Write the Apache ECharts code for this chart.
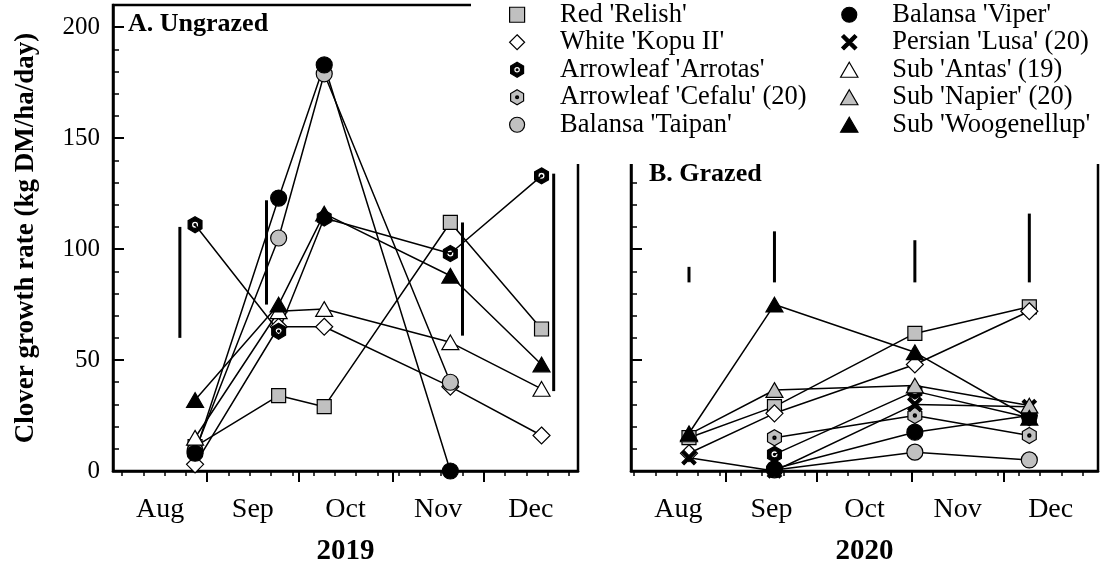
<!DOCTYPE html>
<html>
<head>
<meta charset="utf-8">
<script src="https://cdn.jsdelivr.net/npm/echarts@6/dist/echarts.min.js"></script>
<style>
  html, body { margin: 0; padding: 0; background: #fff; }
  #chart { width: 1101px; height: 571px; }
</style>
</head>
<body>
<div id="chart"></div>
<script>
// x is "days since 1 Aug"
var months = ['Aug', 'Sep', 'Oct', 'Nov', 'Dec'];
var monthStarts = [31, 61, 92, 122];
var monthMids = [15.5, 46, 76.5, 107, 137.5];
var weeks2019 = [3, 10, 17, 24, 38, 45, 52, 59, 66, 73, 80, 87, 94, 101, 108, 115, 129, 136, 143, 150];
var weeks2020 = [1, 8, 15, 22, 29, 36, 43, 50, 57, 64, 71, 78, 85, 92, 99, 106, 113, 120, 127, 134, 141, 148];
var yLabels = [0, 50, 100, 150, 200];
var yMinor = [10, 20, 30, 40, 60, 70, 80, 90, 110, 120, 130, 140, 160, 170, 180, 190];

// sampling dates
var days2019 = [27, 54.5, 69.5, 111, 141];
var days2020 = [19, 47, 93, 130.5];

// A. Ungrazed 2019
var relish19  = [11, 34, 29, 112, 64];
var kopu19    = [3, 65, 65, 38, 16];
var arrotas19 = [111, 63, 114, 98, 133];
var taipan19  = [9, 105, 179, 40, null];
var viper19   = [8, 123, 183, 0, null];
var antas19   = [15, 72, 73, 58, 37];
var woog19    = [32, 75, 116, 88, 48];

// B. Grazed 2020
var relish20  = [15, 29, 62, 74];
var kopu20    = [8, 26, 48, 72];
var arrotas20 = [null, 7.5, 36, 24];
var cefalu20  = [null, 15, 25, 16];
var taipan20  = [null, 0.5, 8.5, 5];
var viper20   = [null, 1, 17.5, 25];
var lusa20    = [6, 0, 30, 29];
var napier20  = [16.5, 36.5, 38.5, 29.5];
var woog20    = [17, 75, 53.5, 24];

// LSD bars
var lsdDays19 = [22, 50.5, 115, 145];
var lsdLow19  = [60, 75, 61, 36];
var lsdHigh19 = [110, 122, 112, 134];
var lsdDays20 = [19, 47, 93, 130.5];
var lsdLow20  = [85, 85, 85, 85];
var lsdHigh20 = [92, 108, 104, 116];

var FONT = 'Liberation Serif';
var GREY = '#c0c0c0';

var SQ = 'path://M0,0L10,0L10,10L0,10Z';
var DIA = 'path://M6,0L12,6L6,12L0,6Z';
var HEX_HOLE = 'path://M10,0L18.66,5L18.66,15L10,20L1.34,15L1.34,5Z' +
  'M14.5,10A4.5,4.5 0 1,0 5.5,10A4.5,4.5 0 1,0 14.5,10Z' +
  'M11.3,10A1.3,1.3 0 1,1 8.7,10A1.3,1.3 0 1,1 11.3,10Z';
var HEX_DOT = 'path://M10,0L18.66,5L18.66,15L10,20L1.34,15L1.34,5Z' +
  'M12,10A2,2 0 1,0 8,10A2,2 0 1,0 12,10Z' +
  'M11.1,10A1.1,1.1 0 1,1 8.9,10A1.1,1.1 0 1,1 11.1,10Z';
var CIR = 'path://M20,10A10,10 0 1,1 0,10A10,10 0 1,1 20,10Z';
var TRI = 'path://M10,0L20,17.32L0,17.32Z';
var CROSS = 'path://M0,3L3,0L10,7L17,0L20,3L13,10L20,17L17,20L10,13L3,20L0,17L7,10Z';

var varieties = [
  {name: "Red 'Relish'",            sym: SQ,       size: 14, fill: GREY,   y19: relish19,  y20: relish20},
  {name: "White 'Kopu II'",         sym: DIA,      size: 17, fill: '#fff', y19: kopu19,    y20: kopu20},
  {name: "Arrowleaf 'Arrotas'",     sym: HEX_HOLE, size: 16, fill: '#000', y19: arrotas19, y20: arrotas20},
  {name: "Arrowleaf 'Cefalu' (20)", sym: HEX_DOT,  size: 16, fill: GREY,   y19: null,      y20: cefalu20},
  {name: "Balansa 'Taipan'",        sym: CIR,      size: 16, fill: GREY,   y19: taipan19,  y20: taipan20},
  {name: "Balansa 'Viper'",         sym: CIR,      size: 16, fill: '#000', y19: viper19,   y20: viper20},
  {name: "Persian 'Lusa' (20)",     sym: CROSS,    size: 14, fill: '#000', y19: null,      y20: lusa20},
  {name: "Sub 'Antas' (19)",        sym: TRI,      size: 17, fill: '#fff', y19: antas19,   y20: null},
  {name: "Sub 'Napier' (20)",       sym: TRI,      size: 17, fill: GREY,   y19: null,      y20: napier20},
  {name: "Sub 'Woogenellup'",       sym: TRI,      size: 17, fill: '#000', y19: woog19,    y20: woog20}
];

function pairs(days, vals) {
  var out = [];
  for (var i = 0; i < days.length; i++) {
    if (vals[i] !== null) out.push([days[i], vals[i]]);
  }
  return out;
}

var series = [];
varieties.forEach(function (v) {
  [[v.y19, days2019, 0], [v.y20, days2020, 1]].forEach(function (p) {
    if (!p[0]) return;
    series.push({
      name: v.name,
      type: 'line',
      xAxisIndex: p[2] * 2,
      yAxisIndex: p[2] * 2,
      data: pairs(p[1], p[0]),
      symbol: v.sym,
      symbolSize: v.size,
      symbolKeepAspect: true,
      showAllSymbol: true,
      lineStyle: {color: '#000', width: 1.5},
      itemStyle: {color: v.fill, borderColor: '#000', borderWidth: 1.2},
      emphasis: {disabled: true},
      z: 3
    });
  });
});

function lsdSeries(g, days, lo, hi) {
  return {
    type: 'custom',
    xAxisIndex: g * 2,
    yAxisIndex: g * 2,
    silent: true,
    data: days.map(function (d, i) { return [d, lo[i], hi[i]]; }),
    encode: {x: 0, y: [1, 2]},
    renderItem: function (params, api) {
      var a = api.coord([api.value(0), api.value(1)]);
      var b = api.coord([api.value(0), api.value(2)]);
      return {
        type: 'line',
        shape: {x1: a[0], y1: a[1], x2: b[0], y2: b[1]},
        style: {stroke: '#000', lineWidth: 3}
      };
    },
    z: 2
  };
}
series.push(lsdSeries(0, lsdDays19, lsdLow19, lsdHigh19));
series.push(lsdSeries(1, lsdDays20, lsdLow20, lsdHigh20));

var xAxes = [], yAxes = [];
['2019', '2020'].forEach(function (yr, g) {
  xAxes.push({
    type: 'value', gridIndex: g, min: 0, max: 153, position: 'bottom',
    axisLine: {show: true, onZero: false, lineStyle: {color: '#000', width: 2.5}},
    axisTick: {show: true, inside: false, length: 11, customValues: monthStarts,
               lineStyle: {color: '#000', width: 2}},
    axisLabel: {customValues: monthMids, margin: 25, fontSize: 28, fontFamily: FONT, color: '#000',
                formatter: function (val) { return months[monthMids.indexOf(val)]; }},
    splitLine: {show: false},
    name: yr, nameLocation: 'middle', nameGap: 66,
    nameTextStyle: {fontSize: 29, fontWeight: 'bold', fontFamily: FONT, color: '#000'}
  });
  xAxes.push({
    type: 'value', gridIndex: g, min: 0, max: 153, position: 'bottom',
    axisLine: {show: false, onZero: false},
    axisTick: {show: true, inside: false, length: 5, customValues: g === 0 ? weeks2019 : weeks2020,
               lineStyle: {color: '#000', width: 1.5}},
    axisLabel: {show: false},
    splitLine: {show: false}
  });
  yAxes.push({
    type: 'value', gridIndex: g, min: 0, max: 210, position: 'left',
    axisLine: {show: true, onZero: false, lineStyle: {color: '#000', width: 2.5}},
    axisTick: {show: true, inside: true, length: 11, customValues: yLabels,
               lineStyle: {color: '#000', width: 2}},
    axisLabel: {show: g === 0, customValues: yLabels, margin: 13, fontSize: 25, fontFamily: FONT, color: '#000'},
    splitLine: {show: false},
    name: g === 0 ? 'Clover growth rate (kg DM/ha/day)' : '',
    nameLocation: 'middle', nameRotate: 90, nameGap: 73,
    nameTextStyle: {fontSize: 27, fontWeight: 'bold', fontFamily: FONT, color: '#000'}
  });
  yAxes.push({
    type: 'value', gridIndex: g, min: 0, max: 210, position: 'left', offset: 0,
    axisLine: {show: false, onZero: false},
    axisTick: {show: true, inside: true, length: 6, customValues: yMinor,
               lineStyle: {color: '#000', width: 1.5}},
    axisLabel: {show: false},
    splitLine: {show: false}
  });
});

function legendFor(names, left) {
  return {
    orient: 'vertical', left: left, top: 1, padding: 0, itemGap: 0,
    itemWidth: 76, itemHeight: 15, selectedMode: false, z: 60,
    itemStyle: {borderColor: '#000', borderWidth: 1.2},
    textStyle: {fontSize: 26.5, fontFamily: FONT, color: '#000', lineHeight: 27.5},
    data: names.map(function (n) {
      var v = varieties.filter(function (o) { return o.name === n; })[0];
      return {name: n, icon: v.sym};
    })
  };
}

var chart = echarts.init(document.getElementById('chart'));
chart.setOption({
  animation: false,
  backgroundColor: '#fff',
  grid: [
    {left: 113, top: 5, width: 465, height: 466, show: true, borderColor: '#000', borderWidth: 2.5},
    {left: 631, top: 5, width: 467, height: 466, show: true, borderColor: '#000', borderWidth: 2.5}
  ],
  title: [
    {text: 'A. Ungrazed', left: 128, top: 11, padding: 0,
     textStyle: {fontSize: 26, fontWeight: 'bold', fontFamily: FONT, color: '#000'}},
    {text: 'B. Grazed', left: 649, top: 161, padding: 0,
     textStyle: {fontSize: 26, fontWeight: 'bold', fontFamily: FONT, color: '#000'}}
  ],
  graphic: {elements: [
    {type: 'rect', left: 471, top: 0, z: 50, silent: true,
     shape: {width: 630, height: 164}, style: {fill: '#fff'}}
  ]},
  legend: [
    legendFor(varieties.slice(0, 5).map(function (v) { return v.name; }), 509),
    legendFor(varieties.slice(5).map(function (v) { return v.name; }), 840)
  ],
  xAxis: xAxes,
  yAxis: yAxes,
  series: series
});
</script>
</body>
</html>
